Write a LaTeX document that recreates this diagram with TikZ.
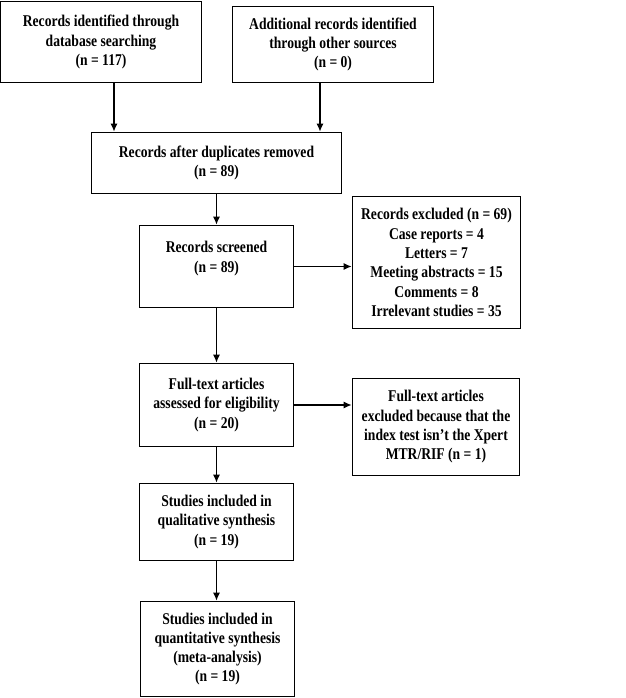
\documentclass[tikz,border=0pt]{standalone}
\usepackage{fontspec}
\setmainfont{Liberation Serif}[FakeStretch=0.83]
\usepackage{tikz}
\usetikzlibrary{arrows.meta}

\begin{document}
\begin{tikzpicture}[x=1pt,y=-1pt,
	box/.style={draw,line width=1.6pt,align=center,inner sep=0pt,
		font=\fontsize{16.4}{19.3}\selectfont\bfseries},
	flow/.style={line width=1.4pt,-{Latex[length=8pt,width=7pt]}}]
\useasboundingbox (0,0) rectangle (625,698);
\node [box,minimum width=201pt,minimum height=81pt] (ident) at (101,42) {Records identified through\\database searching\\(n = 117)};
\node [box,minimum width=201pt,minimum height=76pt] (other) at (333,44.5) {Additional records identified\\through other sources\\(n = 0)};
\node [box,minimum width=250pt,minimum height=61pt] (dupl) at (216.5,163) {Records after duplicates removed\\(n = 89)};
\node [box,minimum width=154pt,minimum height=82pt] (screen) at (216.5,266.5) {Records screened\\(n = 89)\\\mbox{}};
\node [box,minimum width=168pt,minimum height=132pt] (excl) at (436.5,262.5) {Records excluded (n = 69)\\Case reports = 4\\Letters = 7\\Meeting abstracts = 15\\Comments = 8\\Irrelevant studies = 35};
\node [box,minimum width=154pt,minimum height=83pt] (full) at (216.5,405) {Full-text articles\\assessed for eligibility\\(n = 20)};
\node [box,minimum width=167pt,minimum height=97pt] (fexcl) at (436,427) {Full-text articles\\excluded because that the\\index test isn't the Xpert\\MTR/RIF (n = 1)};
\node [box,minimum width=154pt,minimum height=77pt] (qual) at (216.5,522) {Studies included in\\qualitative synthesis\\(n = 19)};
\node [box,minimum width=154pt,minimum height=95pt] (quant) at (217.5,649) {Studies included in\\quantitative synthesis\\(meta-analysis)\\(n = 19)};
\coordinate (leftin) at (114,0);
\coordinate (rightin) at (320,0);
\draw [flow] (leftin |- ident.south) -- (leftin |- dupl.north);
\draw [flow] (rightin |- other.south) -- (rightin |- dupl.north);
\draw [flow] (dupl.south) -- (screen.north);
\draw [flow] (screen.east) -- (screen.east -| excl.west);
\draw [flow] (screen.south) -- (full.north);
\draw [flow] (full.east) -- (full.east -| fexcl.west);
\draw [flow] (full.south) -- (qual.north);
\draw [flow] (qual.south) -- (qual.south |- quant.north);
\end{tikzpicture}
\end{document}
